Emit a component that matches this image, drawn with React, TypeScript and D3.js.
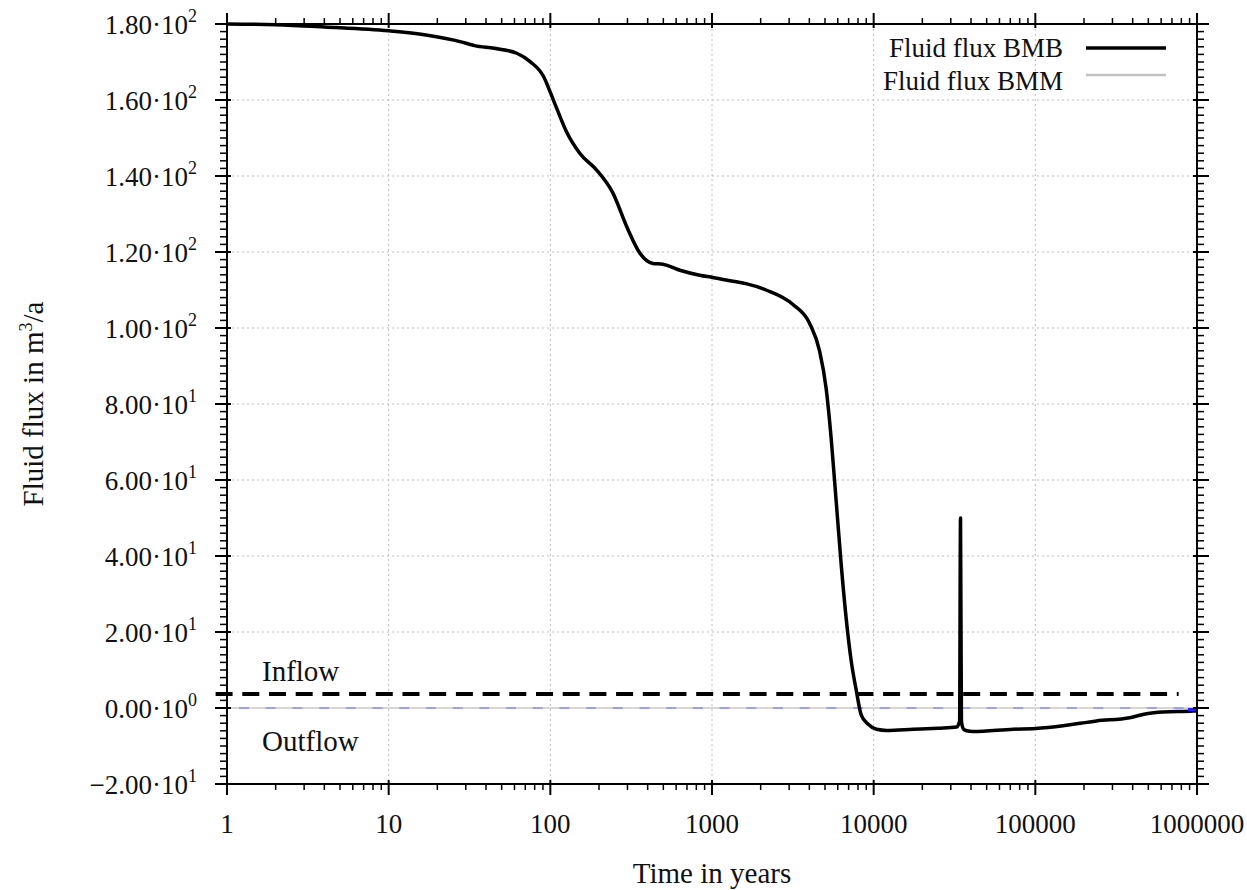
import React from "react";
import * as d3 from "d3";

// ---- data ----
const bmbTime = [1, 2, 4, 10, 17, 28, 32, 34, 45, 62, 75, 91, 100, 110, 127, 152, 194, 244, 298, 358, 431, 497, 633, 838, 1013, 1346, 1644, 2163, 3165, 4018, 4627, 5083, 5461, 5866, 6299, 6763, 7262, 7800, 8370, 9250, 10420, 12020, 17550, 25000, 32580, 34000, 34450, 34900, 36000, 37590, 41200, 72900, 99800, 148600, 238700, 383900, 487400, 618000, 946000, 1000000];
const bmbFlux = [180, 179.8, 179.2, 178.2, 177.1, 175.3, 174.6, 174.3, 173.6, 172.3, 170.1, 166.1, 162, 157.6, 151.3, 146.0, 141.5, 135.5, 126.5, 119.7, 117.0, 116.8, 115.2, 113.9, 113.3, 112.3, 111.6, 110.0, 106.2, 101.2, 94.0, 84.1, 70.9, 54.3, 37.7, 23.5, 12.4, 4.7, -1.8, -4.3, -5.6, -5.9, -5.6, -5.3, -5.0, -3.5, 50, -3.5, -5.6, -6.0, -6.2, -5.6, -5.4, -4.7, -3.4, -2.55, -1.5, -1.05, -0.8, -0.7];
const bmmTime = [1, 1000000];
const bmmFlux = [0, 0];

const xTicks = [1, 10, 100, 1000, 10000, 100000, 1000000];
const xTickLabels = ["1", "10", "100", "1000", "10000", "100000", "1000000"];
const yTicks = [-20, 0, 20, 40, 60, 80, 100, 120, 140, 160, 180];
const yTickMant = ["\u22122.00", "0.00", "2.00", "4.00", "6.00", "8.00", "1.00", "1.20", "1.40", "1.60", "1.80"];
const yTickExp = ["1", "0", "1", "1", "1", "1", "2", "2", "2", "2", "2"];

const inflowLevel = 3.7;
const inflowFrom = 0.85;
const inflowTo = 770000;

const legendNames = ["Fluid flux BMB", "Fluid flux BMM"];
const xTitle = "Time in years";

// ---- layout ----
const W = 1247;
const H = 890;
const L = 227, R = 1197, T = 24, B = 784;
const FONT = "'Liberation Serif', 'Times New Roman', serif";

export default function App() {
  const x = d3.scaleLog().domain([1, 1000000]).range([L, R]);
  const y = d3.scaleLinear().domain([-20, 180]).range([B, T]);

  const line = d3
    .line<[number, number]>()
    .x((d) => x(d[0]))
    .y((d) => y(d[1]))
    .curve(d3.curveMonotoneX);

  const bmb: [number, number][] = bmbTime.map((t, i) => [t, bmbFlux[i]]);
  const bmm: [number, number][] = bmmTime.map((t, i) => [t, bmmFlux[i]]);

  const xMinor: number[] = [];
  for (let e = 0; e < 6; e++) for (let k = 2; k <= 9; k++) xMinor.push(k * Math.pow(10, e));
  const yMinor: number[] = d3.range(-20, 181, 2).filter((v) => v % 20 !== 0);

  const gridX = xTicks.slice(1, -1);
  const gridY = yTicks.filter((v) => v > 0 && v < 180);

  return (
    <svg width={W} height={H} style={{ position: "absolute", left: 0, top: 0, background: "#fff" }} fontFamily={FONT}>
      <rect x={0} y={0} width={W} height={H} fill="#fff" />
      {/* grid */}
      {gridX.map((t) => (
        <line key={"gx" + t} x1={x(t)} x2={x(t)} y1={T} y2={B} stroke="#bdbdbd" strokeWidth={1} strokeDasharray="2,3" />
      ))}
      {gridY.map((v) => (
        <line key={"gy" + v} x1={L} x2={R} y1={y(v)} y2={y(v)} stroke="#bdbdbd" strokeWidth={1} strokeDasharray="2,3" />
      ))}

      {/* zero lines */}
      <path d={line(bmm) || ""} fill="none" stroke="#c8c8c8" strokeWidth={1.5} />
      <line x1={L} x2={R} y1={y(0)} y2={y(0)} stroke="#6a6aff" strokeWidth={1} strokeDasharray="10,16.7" strokeDashoffset={-12} />
      {/* inflow dashed line */}
      <line x1={x(inflowFrom)} x2={x(inflowTo)} y1={y(inflowLevel)} y2={y(inflowLevel)} stroke="#000" strokeWidth={4} strokeDasharray="17,9.7" />

      {/* data */}
      <path d={line(bmb) || ""} fill="none" stroke="#000" strokeWidth={3.5} strokeLinejoin="round" />
      <rect x={x(1000000) - 9} y={y(0)} width={9} height={3} fill="#2020ff" />

      {/* frame */}
      <rect x={L} y={T} width={R - L} height={B - T} fill="none" stroke="#000" strokeWidth={2} />

      {/* x ticks */}
      {xTicks.map((t) => (
        <g key={"xt" + t}>
          <line x1={x(t)} x2={x(t)} y1={B - 4} y2={B + 11} stroke="#000" strokeWidth={2} />
          <line x1={x(t)} x2={x(t)} y1={T + 4} y2={T - 11} stroke="#000" strokeWidth={2} />
        </g>
      ))}
      {xMinor.map((t) => (
        <g key={"xm" + t}>
          <line x1={x(t)} x2={x(t)} y1={B} y2={B + 6} stroke="#000" strokeWidth={1.5} />
          <line x1={x(t)} x2={x(t)} y1={T} y2={T - 6} stroke="#000" strokeWidth={1.5} />
        </g>
      ))}
      {/* y ticks */}
      {yTicks.map((v) => (
        <g key={"yt" + v}>
          <line x1={L - 12} x2={L + 4} y1={y(v)} y2={y(v)} stroke="#000" strokeWidth={2} />
          <line x1={R + 12} x2={R - 4} y1={y(v)} y2={y(v)} stroke="#000" strokeWidth={2} />
        </g>
      ))}
      {yMinor.map((v) => (
        <g key={"ym" + v}>
          <line x1={L - 7} x2={L} y1={y(v)} y2={y(v)} stroke="#000" strokeWidth={1.5} />
          <line x1={R + 7} x2={R} y1={y(v)} y2={y(v)} stroke="#000" strokeWidth={1.5} />
        </g>
      ))}

      {/* tick labels */}
      {xTicks.map((t, i) => (
        <text key={"xl" + t} x={x(t)} y={B + 49} textAnchor="middle" fontSize={27} fill="#111">
          {xTickLabels[i]}
        </text>
      ))}
      {yTicks.map((v, i) => (
        <text key={"yl" + v} x={L - 30} y={y(v) + 10} textAnchor="end" fontSize={27} fill="#111">
          <tspan>{yTickMant[i] + "\u00b710"}</tspan>
          <tspan dy={-12} fontSize={18}>{yTickExp[i]}</tspan>
        </text>
      ))}

      {/* axis titles */}
      <text x={(L + R) / 2} y={883} textAnchor="middle" fontSize={29} fill="#111">{xTitle}</text>
      <text transform={`translate(43, ${(T + B) / 2}) rotate(-90)`} textAnchor="middle" fontSize={29} fill="#111">
        <tspan>Fluid flux in m</tspan>
        <tspan dy={-11} fontSize={18}>3</tspan>
        <tspan dy={11}>/a</tspan>
      </text>

      {/* annotations */}
      <text x={262} y={y(inflowLevel) - 13} fontSize={29} fill="#111">Inflow</text>
      <text x={262} y={y(0) + 43} fontSize={29} fill="#111">Outflow</text>

      {/* legend */}
      <text x={1063} y={57} textAnchor="end" fontSize={27} fill="#111">{legendNames[0]}</text>
      <line x1={1086} x2={1166} y1={48} y2={48} stroke="#000" strokeWidth={3.5} />
      <text x={1063} y={90} textAnchor="end" fontSize={27} fill="#111">{legendNames[1]}</text>
      <line x1={1086} x2={1166} y1={75} y2={75} stroke="#c0c0c0" strokeWidth={2.5} />
    </svg>
  );
}
